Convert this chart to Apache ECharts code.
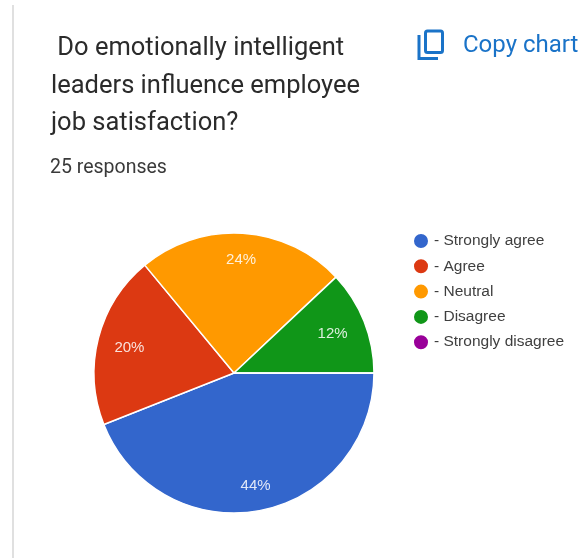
<!DOCTYPE html>
<html>
<head>
<meta charset="utf-8">
<style>html,body{margin:0;padding:0;background:#fff}#chart{width:581px;height:558px}</style>
<script src="https://cdn.jsdelivr.net/npm/echarts@6/dist/echarts.min.js"></script>
</head>
<body>
<div id="chart"></div>
<script>
// Survey answers, as percentages of the 25 responses
const categories = ['Strongly agree', 'Agree', 'Neutral', 'Disagree', 'Strongly disagree'];
const shares = [44, 20, 24, 12, 0];
const sliceColors = ['#3366cc', '#dc3912', '#ff9900', '#109618', '#990099'];
const titleLines = [' Do emotionally intelligent', 'leaders influence employee', 'job satisfaction?'];
const responsesLabel = '25 responses';
const copyLabel = 'Copy chart';

const blue = '#1a73c8';

// Percent labels sit nearer the rim than the default mid-radius spot
const labelPush = [42, 35, 40, 33, 0];
function midAngle(index) {
  const before = shares.slice(0, index).reduce((a, b) => a + b, 0);
  return (before + shares[index] / 2) / 100 * 2 * Math.PI;
}

const chart = echarts.init(document.getElementById('chart'), null, { renderer: 'canvas' });

chart.setOption({
  backgroundColor: '#fff',
  animation: false,
  legend: {
    orient: 'vertical',
    left: 407,
    top: 227,
    icon: 'circle',
    itemWidth: 16,
    itemHeight: 16,
    itemGap: 7.3,
    selectedMode: false,
    formatter: name => '- ' + name,
    textStyle: { fontFamily: 'Liberation Sans', fontSize: 15.5, color: '#3f3f3f', lineHeight: 16 },
    data: categories
  },
  series: [{
    type: 'pie',
    center: [234, 373],
    radius: [0, 140],
    startAngle: 0,
    clockwise: true,
    avoidLabelOverlap: false,
    minShowLabelAngle: 1,
    label: {
      position: 'inside',
      formatter: '{d}%',
      fontFamily: 'Liberation Sans',
      fontSize: 15,
      color: '#fff',
      opacity: 0.85
    },
    labelLayout: params => ({
      dx: Math.cos(midAngle(params.dataIndex)) * labelPush[params.dataIndex],
      dy: Math.sin(midAngle(params.dataIndex)) * labelPush[params.dataIndex] + (params.dataIndex === 1 ? 2 : 0)
    }),
    labelLine: { show: false },
    itemStyle: { borderColor: '#fff', borderWidth: 1.5 },
    emphasis: { disabled: true },
    data: categories.map((name, i) => ({
      name,
      value: shares[i],
      itemStyle: { color: sliceColors[i] }
    }))
  }],
  graphic: [
    { type: 'rect', shape: { x: 12, y: 5, width: 2, height: 553 }, style: { fill: '#e0e0e0' } },
    {
      type: 'text', left: 51, top: 30,
      style: { text: titleLines.join('\n'), font: '400 25.5px Roboto', lineHeight: 37.5, fill: '#2b2b2b' }
    },
    {
      type: 'text', left: 50, top: 158,
      style: { text: responsesLabel, font: '400 19.5px Roboto', fill: '#3a3a3a' }
    },
    {
      type: 'text', left: 463, top: 34,
      style: { text: copyLabel, font: '400 24px Roboto', fill: blue }
    },
    // Copy icon: front sheet outline plus the L-shaped edge of the sheet behind it
    {
      type: 'rect', shape: { x: 425.5, y: 31, width: 17, height: 21.5, r: 2 },
      style: { fill: 'none', stroke: blue, lineWidth: 3 }
    },
    {
      type: 'polyline', shape: { points: [[419, 35], [419, 58.5], [438, 58.5]] },
      style: { fill: 'none', stroke: blue, lineWidth: 3 }
    }
  ]
});
</script>
</body>
</html>
